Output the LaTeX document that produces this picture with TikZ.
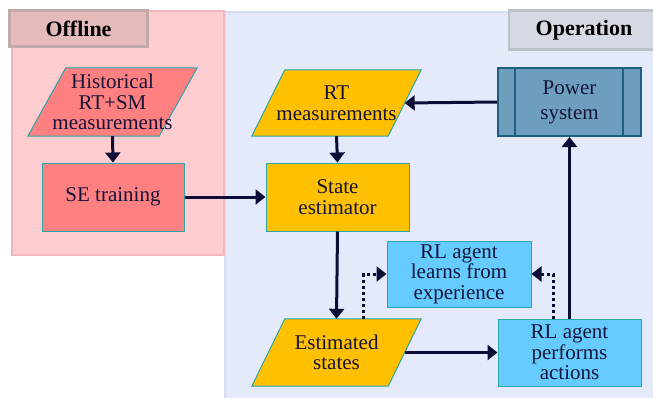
\documentclass[tikz,border=0pt]{standalone}
\usepackage{fontspec}
\setmainfont{Liberation Serif}
\usetikzlibrary{arrows.meta}

\definecolor{offfill}{HTML}{FFCCD0}
\definecolor{offedge}{HTML}{F2B6C0}
\definecolor{opfill}{HTML}{E4EAF9}
\definecolor{opedge}{HTML}{D4DCF0}
\definecolor{offtag}{HTML}{E4BABA}
\definecolor{offtagedge}{HTML}{C2A9A9}
\definecolor{optag}{HTML}{D5D9E1}
\definecolor{optagedge}{HTML}{BCC0C8}
\definecolor{salmon}{HTML}{FF8080}
\definecolor{amber}{HTML}{FFC000}
\definecolor{sky}{HTML}{66CCFF}
\definecolor{steel}{HTML}{6E9EBE}
\definecolor{steeledge}{HTML}{1E5E80}
\definecolor{tealedge}{HTML}{2AA6A6}
\definecolor{ink}{HTML}{0C0C36}
\definecolor{txt}{HTML}{14143A}

\pgfdeclarelayer{panel}
\pgfdeclarelayer{shape}
\pgfsetlayers{panel,shape,main}

\tikzset{
  boxbase/.style={inner sep=0pt, align=center, text=txt,
    font=\fontsize{21}{20.5}\selectfont},
  procbox/.style={boxbase, rectangle, draw=tealedge, line width=1pt},
  databox/.style={boxbase, rectangle},
  slanted/.style={draw=tealedge, line width=1pt},
  tagbox/.style={rectangle, inner sep=0pt, line width=2.5pt,
    font=\fontsize{22}{24}\selectfont\bfseries, text=black},
  flow/.style={draw=ink, line width=3pt, -{Triangle[width=15pt,length=10pt]}},
  dotflow/.style={flow, dash pattern=on 3pt off 3pt},
}

% parallelogram outline drawn behind a databox node: #1 node name, #2 slant, #3 fill
\newcommand{\paraoutline}[3]{%
  \begin{pgfonlayer}{shape}
    \filldraw[slanted, fill=#3]
      ([xshift=#2]#1.north west) -- (#1.north east)
      -- ([xshift=-#2]#1.south east) -- (#1.south west) -- cycle;
  \end{pgfonlayer}}

\begin{document}
\begin{tikzpicture}[x=1pt, y=-1pt]
  \useasboundingbox (0,0) rectangle (653,397);

  % background panels
  \begin{pgfonlayer}{panel}
    \fill[opfill] (224,11) rectangle (660,400);
    \draw[opedge, line width=1.5pt] (224.75,11.75) -- (224.75,400);
    \draw[opedge, line width=1.5pt] (224.75,11.75) -- (660,11.75);
    \filldraw[fill=offfill, draw=offedge, line width=1.2pt] (12,11) rectangle (224,255);
  \end{pgfonlayer}

  % panel tags
  \node[tagbox, fill=offtag, draw=offtagedge, minimum width=138pt, minimum height=36pt]
    (offtag) at (78.5,28.5) {Offline};
  \node[tagbox, fill=optag, draw=optagedge, minimum width=150pt, minimum height=39pt]
    (optag) at (584,30) {Operation};

  % offline stage
  \node[databox, minimum width=169pt, minimum height=68pt]
    (hist) at (112.5,102) {Historical\\RT+SM\\measurements};
  \paraoutline{hist}{38pt}{salmon}
  \node[procbox, fill=salmon, minimum width=142pt, minimum height=68pt]
    (setrain) at (113,197) {SE training};

  % operation stage
  \node[databox, minimum width=169pt, minimum height=66pt]
    (rt) at (336.5,103) {RT\\measurements};
  \paraoutline{rt}{33pt}{amber}
  \node[procbox, fill=steel, draw=steeledge, line width=2pt,
    minimum width=143pt, minimum height=68pt]
    (power) at (569.5,102) {Power\\[4.5pt]system};
  \draw[steeledge, line width=2pt]
    ([xshift=18pt]power.north west) -- ([xshift=18pt]power.south west)
    ([xshift=-19pt]power.north east) -- ([xshift=-19pt]power.south east);
  \node[procbox, fill=amber, minimum width=143pt, minimum height=68pt]
    (stest) at (337.5,197) {State\\estimator};
  \node[databox, minimum width=169pt, minimum height=67pt]
    (estst) at (336.5,352.5) {Estimated\\states};
  \paraoutline{estst}{33pt}{amber}
  \node[procbox, fill=sky, minimum width=144pt, minimum height=66pt]
    (learn) at (459,274) {RL agent\\learns from\\experience};
  \node[procbox, fill=sky, minimum width=143pt, minimum height=67pt]
    (perform) at (569.5,352.5) {RL agent\\performs\\actions};

  % connectors
  \draw[flow] (hist.south) -- (setrain.north);
  \draw[flow] (setrain.east) -- (stest.west);
  \draw[flow] (power.west) -- ([xshift=-16.5pt]rt.east);
  \draw[flow] (rt.south) -- (stest.north);
  \draw[flow] (stest.south) -- (estst.north);
  \draw[flow] ([xshift=-16.5pt]estst.east) -- (perform.west);
  \draw[flow] (perform.north) -- (power.south);
  \draw[dotflow] ([xshift=27pt]estst.north) |- (learn.west);
  \draw[dotflow] ([xshift=-16.5pt]perform.north) |- (learn.east);
\end{tikzpicture}
\end{document}
